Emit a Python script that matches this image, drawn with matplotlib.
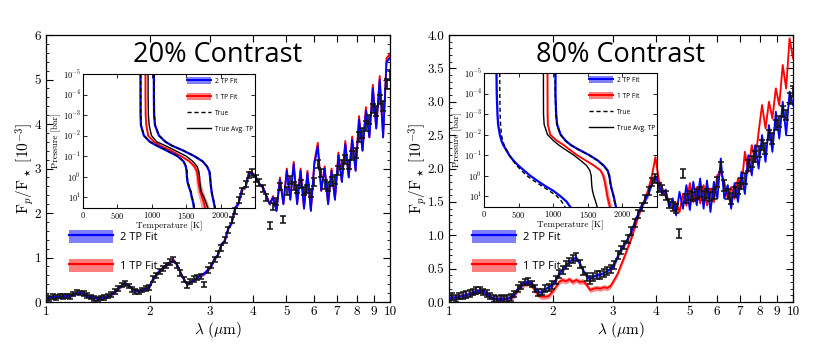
import numpy as np
import matplotlib
matplotlib.use('Agg')
import matplotlib.pyplot as plt
from matplotlib.patches import Patch
from matplotlib.lines import Line2D
from matplotlib.ticker import FixedLocator, NullLocator, AutoMinorLocator

plt.rcParams['mathtext.fontset'] = 'cm'
plt.rcParams['font.family'] = 'serif'
plt.rcParams['font.serif'] = ['cmr10']
plt.rcParams['axes.formatter.use_mathtext'] = True
plt.rcParams['axes.unicode_minus'] = True

# ---------------- spectrum data ----------------
wavelength = [1.000, 1.023, 1.047, 1.072, 1.096, 1.122, 1.148, 1.175, 1.202, 1.230,
              1.259, 1.288, 1.318, 1.349, 1.380, 1.413, 1.445, 1.479, 1.514, 1.549,
              1.585, 1.622, 1.660, 1.698, 1.738, 1.778, 1.820, 1.862, 1.905, 1.950,
              1.995, 2.042, 2.089, 2.138, 2.188, 2.239, 2.291, 2.344, 2.399, 2.455,
              2.512, 2.570, 2.630, 2.692, 2.754, 2.818, 2.884, 2.951, 3.020, 3.090,
              3.162, 3.236, 3.311, 3.388, 3.467, 3.548, 3.631, 3.715, 3.802, 3.890,
              3.981, 4.074, 4.169, 4.266, 4.365, 4.467, 4.571, 4.677, 4.786, 4.898,
              5.012, 5.129, 5.248, 5.370, 5.495, 5.623, 5.754, 5.888, 6.026, 6.166,
              6.310, 6.457, 6.607, 6.761, 6.918, 7.079, 7.244, 7.413, 7.586, 7.762,
              7.943, 8.128, 8.318, 8.511, 8.710, 8.913, 9.120, 9.333, 9.550, 9.772, 10.000]

obs_20 = [0.10, 0.08, 0.12, 0.10, 0.13, 0.12, 0.14, 0.12, 0.18, 0.22,
          0.20, 0.19, 0.15, 0.11, 0.08, 0.07, 0.09, 0.10, 0.13, 0.17,
          0.24, 0.30, 0.38, 0.42, 0.36, 0.28, 0.24, 0.22, 0.27, 0.30,
          0.32, 0.52, 0.60, 0.68, 0.75, 0.82, 0.90, 0.96, 0.82, 0.65,
          0.50, 0.38, 0.46, 0.52, 0.55, 0.58, 0.40, 0.72, 0.82, 0.95,
          1.08, 1.22, 1.40, 1.62, 1.85, 2.05, 2.30, 2.50, 2.65, 2.85,
          2.92, 2.78, 2.68, 2.55, 2.35, 1.72, 2.15, 2.25, 2.60, 1.85,
          2.50, 2.75, 2.60, 2.55, 2.65, 2.50, 2.55, 2.45, 2.70, 3.10,
          2.90, 2.65, 2.60, 2.70, 2.75, 2.95, 3.10, 3.20, 3.10, 3.30,
          3.35, 3.70, 3.80, 3.95, 4.10, 4.35, 4.30, 4.55, 4.40, 4.90, 5.10]

err_20 = [0.05, 0.05, 0.05, 0.05, 0.05, 0.05, 0.05, 0.05, 0.05, 0.05,
          0.05, 0.05, 0.05, 0.05, 0.05, 0.05, 0.05, 0.05, 0.05, 0.05,
          0.05, 0.05, 0.05, 0.05, 0.05, 0.05, 0.05, 0.05, 0.05, 0.05,
          0.06, 0.06, 0.06, 0.06, 0.06, 0.06, 0.06, 0.06, 0.06, 0.06,
          0.06, 0.06, 0.06, 0.06, 0.06, 0.06, 0.06, 0.06, 0.06, 0.06,
          0.07, 0.07, 0.07, 0.07, 0.07, 0.07, 0.07, 0.07, 0.07, 0.07,
          0.08, 0.08, 0.08, 0.08, 0.08, 0.08, 0.08, 0.08, 0.08, 0.08,
          0.09, 0.09, 0.09, 0.09, 0.09, 0.09, 0.09, 0.09, 0.09, 0.09,
          0.10, 0.10, 0.10, 0.10, 0.10, 0.10, 0.10, 0.10, 0.10, 0.10,
          0.11, 0.11, 0.11, 0.11, 0.11, 0.11, 0.11, 0.11, 0.11, 0.11, 0.11]

fit2_20 = [0.08, 0.10, 0.11, 0.12, 0.12, 0.13, 0.13, 0.14, 0.17, 0.20,
           0.21, 0.18, 0.14, 0.11, 0.09, 0.08, 0.09, 0.10, 0.13, 0.17,
           0.23, 0.30, 0.37, 0.42, 0.37, 0.30, 0.25, 0.24, 0.27, 0.30,
           0.33, 0.50, 0.60, 0.70, 0.76, 0.83, 0.88, 0.93, 0.85, 0.68,
           0.52, 0.40, 0.45, 0.50, 0.55, 0.60, 0.64, 0.72, 0.80, 0.98,
           1.06, 1.30, 1.38, 1.66, 1.78, 2.12, 2.22, 2.55, 2.58, 2.90,
           2.88, 2.80, 2.65, 2.58, 2.40, 2.20, 2.35, 2.05, 2.75, 2.20,
           2.95, 2.30, 3.10, 2.20, 2.95, 2.10, 2.90, 2.05, 3.10, 3.50,
           2.50, 3.00, 2.20, 2.95, 2.30, 3.30, 2.70, 3.55, 2.80, 3.65,
           2.95, 4.10, 3.40, 4.30, 3.70, 4.80, 3.90, 5.00, 3.70, 5.40, 5.50]

fit1_20 = [0.08, 0.10, 0.11, 0.12, 0.12, 0.13, 0.13, 0.14, 0.17, 0.20,
           0.21, 0.18, 0.14, 0.11, 0.09, 0.08, 0.09, 0.10, 0.13, 0.17,
           0.23, 0.30, 0.37, 0.43, 0.37, 0.30, 0.25, 0.24, 0.27, 0.30,
           0.33, 0.50, 0.60, 0.70, 0.77, 0.84, 0.90, 0.95, 0.86, 0.68,
           0.52, 0.40, 0.45, 0.50, 0.55, 0.60, 0.64, 0.72, 0.80, 0.98,
           1.06, 1.30, 1.38, 1.66, 1.78, 2.12, 2.22, 2.55, 2.58, 2.93,
           2.90, 2.82, 2.65, 2.60, 2.40, 2.20, 2.38, 2.05, 2.80, 2.20,
           3.00, 2.30, 3.15, 2.20, 3.00, 2.10, 2.95, 2.05, 3.15, 3.58,
           2.50, 3.05, 2.20, 3.00, 2.30, 3.36, 2.70, 3.62, 2.80, 3.72,
           2.95, 4.18, 3.40, 4.38, 3.70, 4.88, 3.90, 5.08, 3.70, 5.48, 5.58]

obs_80 = [0.06, 0.08, 0.05, 0.09, 0.10, 0.11, 0.13, 0.15, 0.17, 0.18,
          0.15, 0.13, 0.09, 0.05, 0.04, 0.06, 0.04, 0.05, 0.07, 0.12,
          0.20, 0.25, 0.30, 0.31, 0.27, 0.20, 0.14, 0.15, 0.20, 0.22,
          0.25, 0.33, 0.42, 0.48, 0.55, 0.60, 0.64, 0.68, 0.57, 0.46,
          0.38, 0.33, 0.38, 0.40, 0.41, 0.43, 0.46, 0.50, 0.56, 0.70,
          0.78, 0.86, 0.95, 1.07, 1.18, 1.32, 1.42, 1.55, 1.66, 1.80,
          1.85, 1.72, 1.68, 1.60, 1.48, 1.43, 1.40, 1.03, 1.93, 1.55,
          1.60, 1.58, 1.62, 1.65, 1.60, 1.63, 1.58, 1.62, 1.80, 2.02,
          1.75, 1.62, 1.55, 1.65, 1.70, 1.78, 1.85, 2.05, 2.10, 2.18,
          2.25, 2.35, 2.30, 2.50, 2.45, 2.65, 2.70, 2.85, 2.80, 3.05, 3.15]

err_80 = [0.05, 0.05, 0.05, 0.05, 0.05, 0.05, 0.05, 0.05, 0.05, 0.05,
          0.05, 0.05, 0.05, 0.05, 0.05, 0.05, 0.05, 0.05, 0.05, 0.05,
          0.05, 0.05, 0.05, 0.05, 0.05, 0.05, 0.05, 0.05, 0.05, 0.05,
          0.06, 0.06, 0.06, 0.06, 0.06, 0.06, 0.06, 0.06, 0.06, 0.06,
          0.06, 0.06, 0.06, 0.06, 0.06, 0.06, 0.06, 0.06, 0.06, 0.06,
          0.06, 0.06, 0.06, 0.06, 0.06, 0.06, 0.06, 0.06, 0.06, 0.06,
          0.07, 0.07, 0.07, 0.07, 0.07, 0.07, 0.07, 0.07, 0.07, 0.07,
          0.07, 0.07, 0.07, 0.07, 0.07, 0.07, 0.07, 0.07, 0.07, 0.07,
          0.08, 0.08, 0.08, 0.08, 0.08, 0.08, 0.08, 0.08, 0.08, 0.08,
          0.08, 0.08, 0.08, 0.08, 0.08, 0.08, 0.08, 0.08, 0.08, 0.08, 0.08]

fit2_80 = [0.05, 0.07, 0.06, 0.08, 0.09, 0.10, 0.12, 0.14, 0.16, 0.17,
           0.16, 0.12, 0.08, 0.05, 0.04, 0.05, 0.04, 0.05, 0.07, 0.12,
           0.20, 0.26, 0.29, 0.30, 0.28, 0.21, 0.15, 0.14, 0.19, 0.22,
           0.25, 0.33, 0.42, 0.48, 0.55, 0.60, 0.64, 0.66, 0.58, 0.47,
           0.39, 0.34, 0.38, 0.40, 0.41, 0.43, 0.46, 0.50, 0.55, 0.68,
           0.78, 0.86, 0.95, 1.05, 1.20, 1.32, 1.45, 1.52, 1.62, 1.78,
           1.88, 1.75, 1.62, 1.68, 1.42, 1.55, 1.30, 1.65, 1.40, 1.75,
           1.38, 1.80, 1.45, 1.85, 1.40, 1.82, 1.35, 1.80, 1.55, 2.15,
           1.55, 1.75, 1.40, 1.78, 1.50, 1.95, 1.62, 2.20, 1.90, 2.35,
           2.00, 2.50, 2.10, 2.65, 2.25, 2.85, 2.45, 3.00, 2.50, 3.15, 2.95]

fit1_80 = [0.05, 0.07, 0.06, 0.08, 0.09, 0.10, 0.12, 0.14, 0.16, 0.17,
           0.16, 0.12, 0.08, 0.05, 0.04, 0.05, 0.04, 0.05, 0.06, 0.10,
           0.18, 0.24, 0.27, 0.28, 0.25, 0.17, 0.10, 0.08, 0.08, 0.09,
           0.15, 0.22, 0.30, 0.33, 0.31, 0.34, 0.30, 0.33, 0.30, 0.31,
           0.26, 0.18, 0.20, 0.21, 0.20, 0.22, 0.21, 0.24, 0.33, 0.42,
           0.55, 0.68, 0.82, 0.95, 1.12, 1.28, 1.42, 1.55, 1.70, 1.90,
           2.17, 1.82, 1.70, 1.58, 1.50, 1.40, 1.48, 1.35, 1.62, 1.45,
           1.78, 1.50, 1.72, 1.48, 1.75, 1.45, 1.70, 1.50, 1.90, 1.95,
           1.80, 1.55, 1.72, 1.55, 1.85, 1.70, 2.25, 1.95, 2.35, 2.10,
           2.55, 2.95, 2.60, 3.00, 2.75, 3.20, 2.95, 3.55, 3.20, 3.95, 3.65]

x_ticks = [1, 2, 3, 4, 5, 6, 7, 8, 9, 10]
x_tick_labels = ['1', '2', '3', '4', '5', '6', '7', '8', '9', '10']

# ---------------- TP profile data ----------------
pressure = [1e-5, 1e-4, 1e-3, 3.2e-3, 1e-2, 2e-2, 3.2e-2, 5e-2, 0.1, 0.18,
            0.32, 0.56, 1.0, 1.8, 3.2, 5.6, 10.0, 18.0, 34.0]

true_cool_20 = [839, 839, 840, 845, 888, 975, 1083, 1200, 1376, 1463,
                1498, 1512, 1515, 1522, 1546, 1571, 1585, 1605, 1620]
true_hot_20 = [1034, 1034, 1036, 1050, 1107, 1200, 1302, 1440, 1620, 1741,
               1805, 1839, 1849, 1855, 1863, 1872, 1888, 1905, 1922]
fit_cool_20 = [835, 835, 836, 842, 884, 970, 1078, 1196, 1372, 1460,
               1494, 1506, 1510, 1518, 1540, 1565, 1580, 1600, 1612]
fit_hot_20 = [1030, 1030, 1033, 1047, 1103, 1196, 1298, 1436, 1616, 1738,
              1802, 1836, 1846, 1852, 1860, 1869, 1884, 1900, 1916]
avg_20 = [946, 946, 950, 962, 995, 1070, 1205, 1320, 1498, 1595,
          1659, 1683, 1693, 1698, 1707, 1720, 1756, 1785, 1815]
fit1_tp_20 = [907, 907, 910, 920, 946, 1030, 1132, 1260, 1424, 1545,
              1620, 1655, 1668, 1676, 1690, 1705, 1730, 1755, 1775]
fit1_tp_20_spread = [10, 10, 10, 12, 14, 16, 18, 20, 22, 25,
                     28, 30, 32, 36, 40, 45, 50, 55, 60]

true_cool_80 = [228, 228, 233, 240, 252, 270, 291, 320, 364, 415,
                471, 540, 617, 720, 835, 945, 1053, 1120, 1175]
fit_cool_80 = [180, 184, 194, 204, 228, 252, 277, 311, 364, 422,
               495, 578, 665, 772, 883, 1005, 1102, 1189, 1248]
true_hot_80 = [1029, 1029, 1039, 1053, 1102, 1175, 1248, 1345, 1515, 1636,
               1723, 1782, 1806, 1818, 1830, 1848, 1869, 1885, 1903]
fit_hot_80 = [1032, 1032, 1042, 1056, 1106, 1180, 1253, 1350, 1520, 1640,
              1727, 1786, 1810, 1822, 1834, 1852, 1873, 1889, 1907]
avg_80 = [859, 859, 860, 869, 917, 1005, 1078, 1160, 1296, 1393,
          1481, 1529, 1549, 1553, 1558, 1568, 1587, 1612, 1636]
fit1_tp_80 = [917, 917, 918, 922, 956, 1053, 1150, 1223, 1345, 1466,
              1587, 1684, 1723, 1743, 1757, 1770, 1782, 1800, 1820]
fit1_tp_80_spread = [8, 8, 8, 9, 10, 12, 14, 15, 16, 18,
                     20, 22, 24, 25, 26, 27, 28, 30, 32]

inset_xticks = [0, 500, 1000, 1500, 2000]
inset_yticks = [1e-5, 1e-4, 1e-3, 1e-2, 1e-1, 1e0, 1e1]

SANS = 'Open Sans'

fig = plt.figure(figsize=(8.29, 3.47), dpi=100)


def main_panel(rect, obs, err, fit2, fit1, ylim, yticks, ytick_fmt, title, minor_n):
    ax = fig.add_axes(rect)
    lam = np.array(wavelength)
    f1 = np.array(fit1)
    f2 = np.array(fit2)
    ax.fill_between(lam, f1 - 0.04, f1 + 0.04, color='red', alpha=0.45, lw=0, zorder=1)
    ax.plot(lam, f1, color='red', lw=1.3, zorder=2)
    ax.fill_between(lam, f2 - 0.04, f2 + 0.04, color='blue', alpha=0.45, lw=0, zorder=3)
    ax.plot(lam, f2, color='blue', lw=1.3, zorder=4)
    ax.errorbar(lam, obs, yerr=err, fmt='none', ecolor='#111111', elinewidth=1.2,
                capsize=2.0, capthick=1.1, zorder=5)
    ax.set_xscale('log')
    ax.set_xlim(1, 10)
    ax.set_ylim(*ylim)
    ax.xaxis.set_major_locator(FixedLocator(x_ticks))
    ax.xaxis.set_minor_locator(NullLocator())
    ax.set_xticklabels(x_tick_labels)
    ax.set_yticks(yticks)
    ax.set_yticklabels([ytick_fmt.format(v) for v in yticks])
    ax.yaxis.set_minor_locator(AutoMinorLocator(minor_n))
    ax.tick_params(which='both', direction='in', top=True, right=True, labelsize=9.5)
    ax.tick_params(which='major', length=5, width=0.8)
    ax.tick_params(which='minor', length=2.5, width=0.6)
    ax.tick_params(axis='x', pad=3)
    for s in ax.spines.values():
        s.set_linewidth(0.9)
    ax.set_xlabel(r'$\lambda\ (\mu\mathrm{m})$', fontsize=11, labelpad=1)
    ax.set_ylabel(r'$\mathrm{F}_p/\mathrm{F}_\star\ [10^{-3}]$', fontsize=11, labelpad=-1)
    ax.text(0.5, 0.925, title, transform=ax.transAxes, ha='center', va='center',
            fontsize=19.5, family=SANS)
    h2 = (Patch(facecolor='blue', alpha=0.5, edgecolor='none'), Line2D([], [], color='blue', lw=1.6))
    h1 = (Patch(facecolor='red', alpha=0.5, edgecolor='none'), Line2D([], [], color='red', lw=1.6))
    ax.legend([h2, h1], ['2 TP Fit', '1 TP Fit'], loc='center left',
              bbox_to_anchor=(0.068, 0.19), frameon=False,
              prop={'family': SANS, 'size': 8}, handlelength=3.9, handleheight=1.35,
              labelspacing=1.45, handletextpad=0.65, borderpad=0, borderaxespad=0)
    return ax


def inset_panel(rect, cool_true, hot_true, cool_fit, hot_fit, avg, fit1, spread):
    ax = fig.add_axes(rect)
    ax.set_facecolor('none')
    p = np.array(pressure)
    f1 = np.array(fit1)
    sp = np.array(spread)
    ax.fill_betweenx(p, f1 - sp, f1 + sp, color='red', alpha=0.4, lw=0)
    ax.plot(f1, p, color='red', lw=1.3)
    for fit in (cool_fit, hot_fit):
        fa = np.array(fit)
        ax.fill_betweenx(p, fa - 10, fa + 10, color='blue', alpha=0.35, lw=0)
        ax.plot(fa, p, color='blue', lw=1.6)
    ax.plot(avg, p, color='black', lw=1.0)
    for tr in (cool_true, hot_true):
        ax.plot(tr, p, color='black', lw=1.0, ls=(0, (3, 2)))
    ax.set_yscale('log')
    ax.set_ylim(34, 1e-5)
    ax.set_xlim(0, 2500)
    ax.set_xticks(inset_xticks)
    ax.set_yticks(inset_yticks)
    ax.yaxis.set_minor_locator(NullLocator())
    ax.tick_params(which='both', direction='in', top=True, right=True, labelsize=6,
                   length=3, width=0.6, pad=1.5)
    for s in ax.spines.values():
        s.set_linewidth(0.8)
    ax.set_xlabel('Temperature [K]', fontsize=6.5, labelpad=0.5)
    ax.set_ylabel('Pressure [bar]', fontsize=6.5, labelpad=1)
    h2 = (Patch(facecolor='blue', alpha=0.5, edgecolor='none'), Line2D([], [], color='blue', lw=1.4))
    h1 = (Patch(facecolor='red', alpha=0.5, edgecolor='none'), Line2D([], [], color='red', lw=1.4))
    ht = Line2D([], [], color='black', lw=1.0, ls=(0, (3, 2)))
    ha = Line2D([], [], color='black', lw=1.0)
    ax.legend([h2, h1, ht, ha], ['2 TP Fit', '1 TP Fit', 'True', 'True Avg. TP'],
              loc='upper right', bbox_to_anchor=(1.0, 0.985), frameon=False,
              prop={'family': SANS, 'size': 4.8}, handlelength=3.6, handleheight=1.2,
              labelspacing=1.25, handletextpad=0.6, borderpad=0.2, borderaxespad=0)
    return ax


axL = main_panel([46 / 829, 45 / 347, 344 / 829, 267 / 347], obs_20, err_20, fit2_20, fit1_20,
                 (0, 6), [0, 1, 2, 3, 4, 5, 6], '{:d}', '20% Contrast', 5)
axR = main_panel([449 / 829, 45 / 347, 344 / 829, 267 / 347], obs_80, err_80, fit2_80, fit1_80,
                 (0, 4), [0.0, 0.5, 1.0, 1.5, 2.0, 2.5, 3.0, 3.5, 4.0], '{:.1f}', '80% Contrast', 5)

inset_panel([83 / 829, 139 / 347, 172 / 829, 134 / 347], true_cool_20, true_hot_20,
            fit_cool_20, fit_hot_20, avg_20, fit1_tp_20, fit1_tp_20_spread)
inset_panel([484 / 829, 140 / 347, 173 / 829, 134 / 347], true_cool_80, true_hot_80,
            fit_cool_80, fit_hot_80, avg_80, fit1_tp_80, fit1_tp_80_spread)

fig.savefig('out.png', dpi=100)
